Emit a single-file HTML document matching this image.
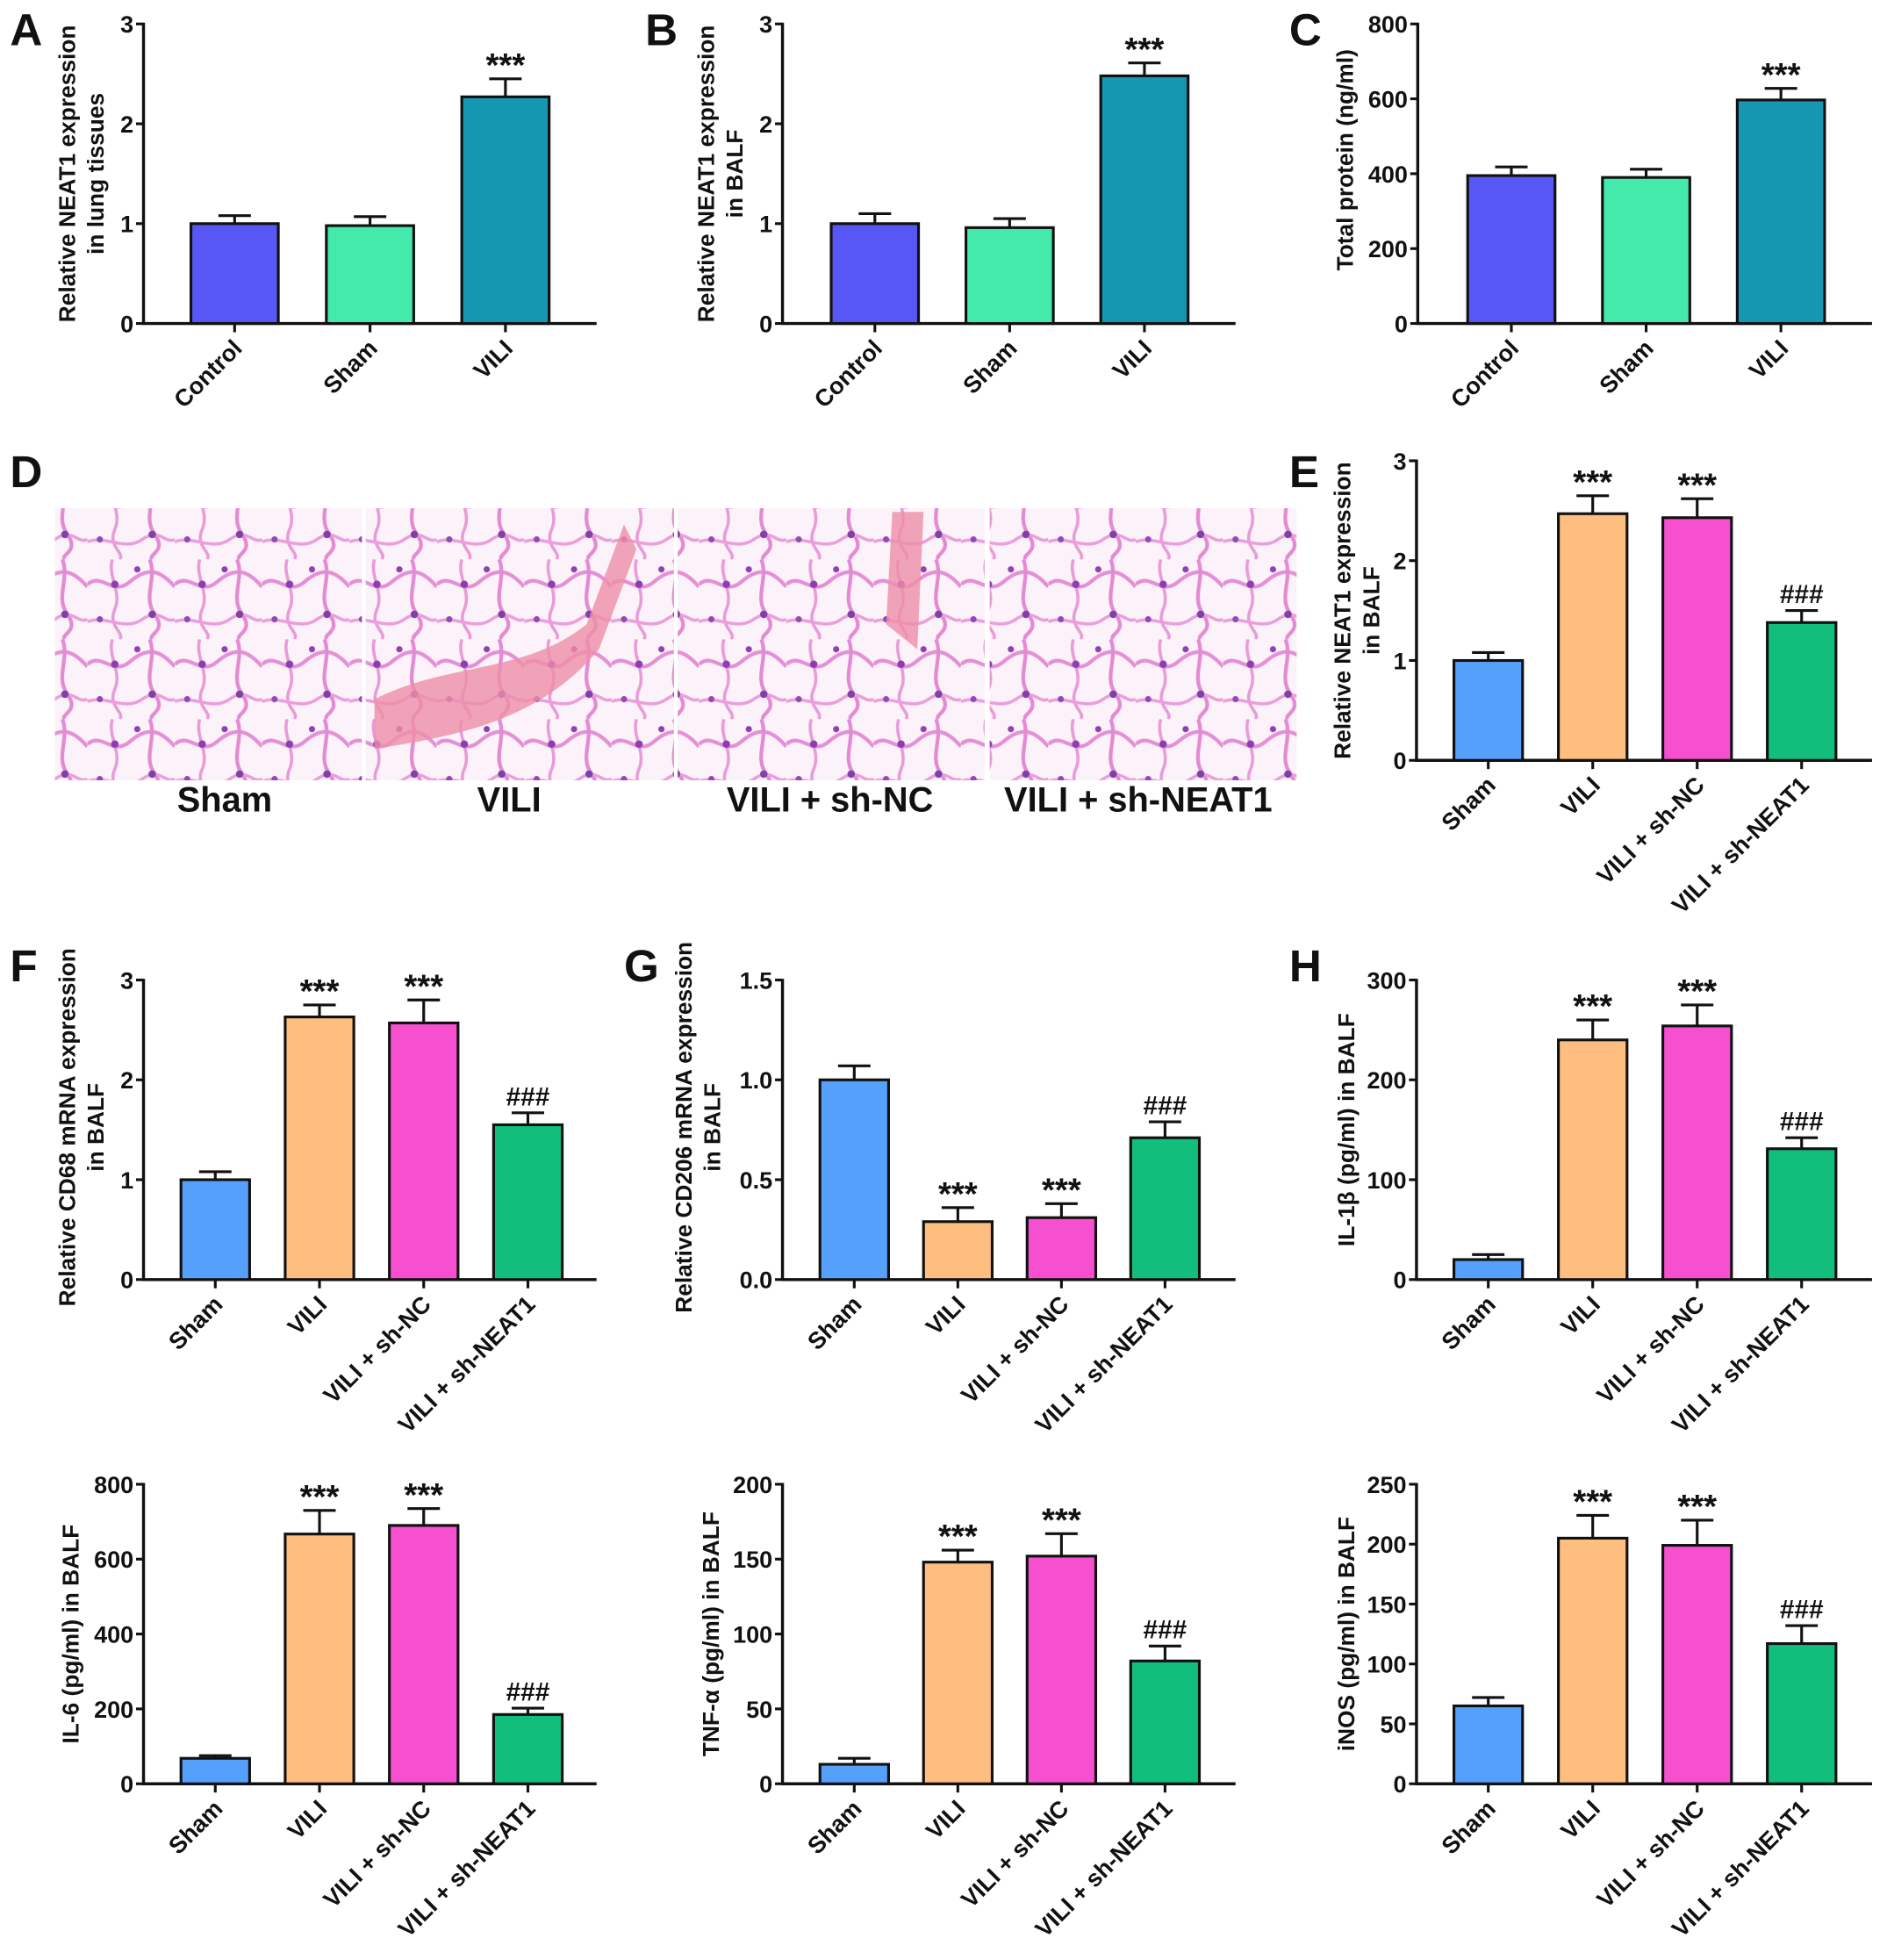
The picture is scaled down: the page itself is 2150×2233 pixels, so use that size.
<!DOCTYPE html>
<html><head><meta charset="utf-8">
<style>
html,body{margin:0;padding:0;background:#fff;}
svg{display:block;}
text{font-family:"Liberation Sans",Arial,sans-serif;font-weight:bold;fill:#111;}
</style></head>
<body>
<svg id="fig" width="2150" height="2233" viewBox="0 0 1512 1570" xmlns="http://www.w3.org/2000/svg">
<defs>
<pattern id="tissue" width="70" height="64" patternUnits="userSpaceOnUse">
<rect width="70" height="64" fill="#fbf3f9"/>
<path d="M0 20 C12 10 20 30 34 18 S58 8 70 22" fill="none" stroke="#e58fd6" stroke-width="3"/>
<path d="M20 0 C16 14 28 26 22 40 S30 58 26 64" fill="none" stroke="#e99ad9" stroke-width="2.5"/>
<path d="M50 0 C56 16 44 30 54 44 S48 60 52 64" fill="none" stroke="#e48ad3" stroke-width="3"/>
<path d="M0 50 C14 44 30 58 44 48 S62 52 70 48" fill="none" stroke="#ea9fdc" stroke-width="2.5"/>
<circle cx="22" cy="20" r="3" fill="#8a3fb0"/>
<circle cx="52" cy="44" r="3" fill="#8040a8"/>
<circle cx="10" cy="48" r="2.5" fill="#9448b8"/>
<circle cx="40" cy="8" r="2.5" fill="#9040b4"/>
</pattern>
</defs>
<g>
<text x="8" y="390" font-size="36">D</text>
<rect x="44" y="407" width="246" height="218" fill="url(#tissue)"/>
<rect x="293" y="407" width="247" height="218" fill="url(#tissue)"/>
<path d="M300 560 C360 530 420 540 470 500 L500 420 L510 440 L480 520 C430 580 360 590 300 600Z" fill="#ee8fa8" opacity="0.8"/>
<rect x="543" y="407" width="246" height="218" fill="url(#tissue)"/>
<path d="M715 410 L740 410 L735 520 L710 500Z" fill="#ee8fa8" opacity="0.8"/>
<rect x="793" y="407" width="246" height="218" fill="url(#tissue)"/>
<text x="180" y="650" font-size="28" text-anchor="middle">Sham</text>
<text x="408" y="650" font-size="28" text-anchor="middle">VILI</text>
<text x="665" y="650" font-size="28" text-anchor="middle">VILI + sh-NC</text>
<text x="912" y="650" font-size="28" text-anchor="middle">VILI + sh-NEAT1</text>
</g>
</svg>
<script>
// ---- data ----
const catsABC = ["Control","Sham","VILI"];
const cats4 = ["Sham","VILI","VILI + sh-NC","VILI + sh-NEAT1"];
const colorsABC = ["#5757f5","#44eaac","#1597b2"];
const colors4 = ["#55a0fb","#fdbe7f","#f64fd0","#12be7b"];

const aVals = [1.0, 0.98, 2.27];   const aErrs = [0.08, 0.09, 0.18];   const aTicks = ["0","1","2","3"];
const bVals = [1.0, 0.96, 2.48];   const bErrs = [0.10, 0.09, 0.13];   const bTicks = ["0","1","2","3"];
const cVals = [395, 390, 597];     const cErrs = [23, 22, 31];         const cTicks = ["0","200","400","600","800"];
const eVals = [1.0, 2.47, 2.43, 1.38]; const eErrs = [0.08, 0.18, 0.19, 0.12]; const eTicks = ["0","1","2","3"];
const fVals = [1.0, 2.63, 2.57, 1.55]; const fErrs = [0.08, 0.12, 0.23, 0.12]; const fTicks = ["0","1","2","3"];
const gVals = [1.0, 0.29, 0.31, 0.71]; const gErrs = [0.07, 0.07, 0.07, 0.08]; const gTicks = ["0.0","0.5","1.0","1.5"];
const hVals = [20, 240, 254, 131]; const hErrs = [5, 20, 21, 11]; const hTicks = ["0","100","200","300"];
const il6Vals = [68, 667, 690, 185]; const il6Errs = [7, 63, 45, 17]; const il6Ticks = ["0","200","400","600","800"];
const tnfVals = [13, 148, 152, 82]; const tnfErrs = [4, 8, 15, 10]; const tnfTicks = ["0","50","100","150","200"];
const inosVals = [65, 205, 199, 117]; const inosErrs = [7, 19, 21, 15]; const inosTicks = ["0","50","100","150","200","250"];

const sigABC = ["","","***"];
const sig4 = ["","***","***","###"];
const sigG = ["","***","***","###"];

const NS = "http://www.w3.org/2000/svg";
const svg = document.getElementById("fig");
function mk(tag, attrs, parent){
  const el = document.createElementNS(NS, tag);
  for (const k in attrs) el.setAttribute(k, attrs[k]);
  (parent||svg).appendChild(el);
  return el;
}

function chart(o){
  const g = mk("g", {});
  
  
  const ymax = parseFloat(o.ticks[o.ticks.length-1]);
  const yS = v => o.y0 - (v / ymax) * (o.y0 - o.yTop);
  if (o.letter){
    const t = mk("text", {x:o.lx, y:o.ly, "font-size":36}, g);
    t.textContent = o.letter;
    
    
  }
  const ya = mk("line", {x1:o.ax, y1:o.yTop-1, x2:o.ax, y2:o.y0+1, stroke:"#111", "stroke-width":2.4}, g);
  
  
  o.ticks.forEach(tk => {
    const y = yS(parseFloat(tk));
    mk("line", {x1:o.ax-6, y1:y, x2:o.ax, y2:y, stroke:"#111", "stroke-width":2.2}, g);
    const t = mk("text", {x:o.ax-8, y:y+7, "font-size":19, "text-anchor":"end"}, g);
    t.textContent = tk;
    
    
  });
  const xa = mk("line", {x1:o.ax-1, y1:o.y0, x2:o.axEnd, y2:o.y0, stroke:"#111", "stroke-width":2.4}, g);
  
  
  o.title.forEach((line, i) => {
    const x = o.tx + i * 23;
    const t = mk("text", {x:x, y:o.ty, "font-size":18.5, "text-anchor":"middle", transform:`rotate(-90 ${x} ${o.ty})`}, g);
    t.textContent = line;
    
    
  });
  o.cats.forEach((c, i) => {
    const xl = o.bx0 + i * o.step;
    const cx = xl + o.bw / 2;
    const yv = yS(o.vals[i]);
    const ye = yS(o.vals[i] + o.errs[i]);
    const el = mk("line", {x1:cx, y1:yv, x2:cx, y2:ye, stroke:"#111", "stroke-width":2.2}, g);
    
    
    mk("line", {x1:cx-13, y1:ye, x2:cx+13, y2:ye, stroke:"#111", "stroke-width":2.2}, g);
    const r = mk("rect", {x:xl, y:yv, width:o.bw, height:o.y0 - yv, fill:o.colors[i], stroke:"#111", "stroke-width":2.2}, g);
    
    
    mk("line", {x1:cx, y1:o.y0, x2:cx, y2:o.y0+7, stroke:"#111", "stroke-width":2.2}, g);
    const lx = cx + 7, ly = o.y0 + 21;
    const t = mk("text", {x:lx, y:ly, "font-size":19, "text-anchor":"end", transform:`rotate(-45 ${lx} ${ly})`}, g);
    t.textContent = c;
    
    
    if (o.sig[i]){
      const isHash = o.sig[i]==="###";
      const s = mk("text", {x:cx, y:ye - (isHash?6:2), "font-size":isHash?21:27, "text-anchor":"middle"}, g);
      s.textContent = o.sig[i];
      
      
    }
  });
}

chart({name:"chart-a", letter:"A", lx:8, ly:36, ax:115, axEnd:478, yTop:19, y0:259, ticks:aTicks, cats:catsABC, vals:aVals, errs:aErrs, colors:colorsABC, sig:sigABC, bx0:153, bw:70, step:108.5, title:["Relative NEAT1 expression","in lung tissues"], tx:60, ty:139});
chart({name:"chart-b", letter:"B", lx:517, ly:36, ax:627, axEnd:990, yTop:19, y0:259, ticks:bTicks, cats:catsABC, vals:bVals, errs:bErrs, colors:colorsABC, sig:sigABC, bx0:666, bw:70, step:108, title:["Relative NEAT1 expression","in BALF"], tx:572, ty:139});
chart({name:"chart-c", letter:"C", lx:1033, ly:36, ax:1136, axEnd:1500, yTop:19, y0:259, ticks:cTicks, cats:catsABC, vals:cVals, errs:cErrs, colors:colorsABC, sig:sigABC, bx0:1176, bw:70, step:108, title:["Total protein (ng/ml)"], tx:1084, ty:128});
chart({name:"chart-e", letter:"E", lx:1033, ly:390, ax:1135, axEnd:1500, yTop:369, y0:609, ticks:eTicks, cats:cats4, vals:eVals, errs:eErrs, colors:colors4, sig:sig4, bx0:1165, bw:55, step:83.7, title:["Relative NEAT1 expression","in BALF"], tx:1082, ty:489});
chart({name:"chart-f", letter:"F", lx:8, ly:786, ax:115, axEnd:478, yTop:785, y0:1025, ticks:fTicks, cats:cats4, vals:fVals, errs:fErrs, colors:colors4, sig:sig4, bx0:145, bw:55, step:83.5, title:["Relative CD68 mRNA expression","in BALF"], tx:60, ty:903});
chart({name:"chart-g", letter:"G", lx:500, ly:786, ax:627, axEnd:990, yTop:785, y0:1025, ticks:gTicks, cats:cats4, vals:gVals, errs:gErrs, colors:colors4, sig:sigG, bx0:657, bw:55, step:83, title:["Relative CD206 mRNA expression","in BALF"], tx:554, ty:903});
chart({name:"chart-h", letter:"H", lx:1033, ly:786, ax:1135, axEnd:1500, yTop:785, y0:1025, ticks:hTicks, cats:cats4, vals:hVals, errs:hErrs, colors:colors4, sig:sig4, bx0:1165, bw:55, step:83.7, title:["IL-1β (pg/ml) in BALF"], tx:1085, ty:905});
chart({name:"chart-il6", ax:115, axEnd:478, yTop:1189, y0:1429, ticks:il6Ticks, cats:cats4, vals:il6Vals, errs:il6Errs, colors:colors4, sig:sig4, bx0:145, bw:55, step:83.5, title:["IL-6 (pg/ml) in BALF"], tx:63, ty:1309});
chart({name:"chart-tnf", ax:627, axEnd:990, yTop:1189, y0:1429, ticks:tnfTicks, cats:cats4, vals:tnfVals, errs:tnfErrs, colors:colors4, sig:sig4, bx0:657, bw:55, step:83, title:["TNF-α (pg/ml) in BALF"], tx:576, ty:1309});
chart({name:"chart-inos", ax:1135, axEnd:1500, yTop:1189, y0:1429, ticks:inosTicks, cats:cats4, vals:inosVals, errs:inosErrs, colors:colors4, sig:sig4, bx0:1165, bw:55, step:83.7, title:["iNOS (pg/ml) in BALF"], tx:1085, ty:1309});
</script>
</body></html>
